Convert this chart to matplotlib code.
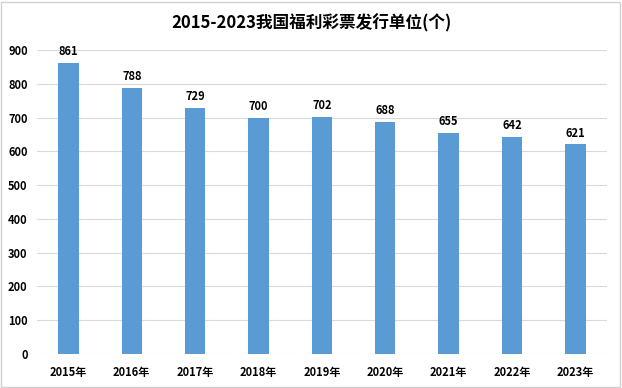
import matplotlib.pyplot as plt
from matplotlib.patches import Rectangle

plt.rcParams['font.family'] = ['Noto Sans CJK SC', 'DejaVu Sans']

years = ["2015年", "2016年", "2017年", "2018年", "2019年", "2020年", "2021年", "2022年", "2023年"]
units = [861, 788, 729, 700, 702, 688, 655, 642, 621]

fig = plt.figure(figsize=(6.22, 3.88), dpi=100)
ax = fig.add_axes([0.059, 0.088, 0.917, 0.783])

x = range(len(years))
ax.bar(x, units, width=0.32, color="#5B9BD5", zorder=2)
for i, v in zip(x, units):
    ax.text(i, v + 14, str(v), ha="center", va="bottom", fontsize=8, fontweight="bold")

ax.set_xlim(-0.5, len(years) - 0.5)
ax.set_ylim(0, 900)
ax.set_yticks(range(0, 901, 100))
ax.set_xticks(list(x))
ax.set_xticklabels(years, fontsize=8, fontweight="bold")
ax.tick_params(axis="y", labelsize=8, length=0, pad=6.5)
ax.tick_params(axis="x", length=0, pad=9)
for lbl in ax.get_yticklabels():
    lbl.set_fontweight("bold")
ax.grid(axis="y", color="#d9d9d9", linewidth=0.8, zorder=0)
for s in ax.spines.values():
    s.set_visible(False)

fig.suptitle("2015-2023我国福利彩票发行单位(个)", y=0.965, fontsize=12, fontweight="bold")
fig.patches.append(Rectangle((0.002, 0.003), 0.995, 0.993, transform=fig.transFigure,
                             fill=False, edgecolor="#d0d0d0", linewidth=1))

fig.savefig("out.png", dpi=100)
